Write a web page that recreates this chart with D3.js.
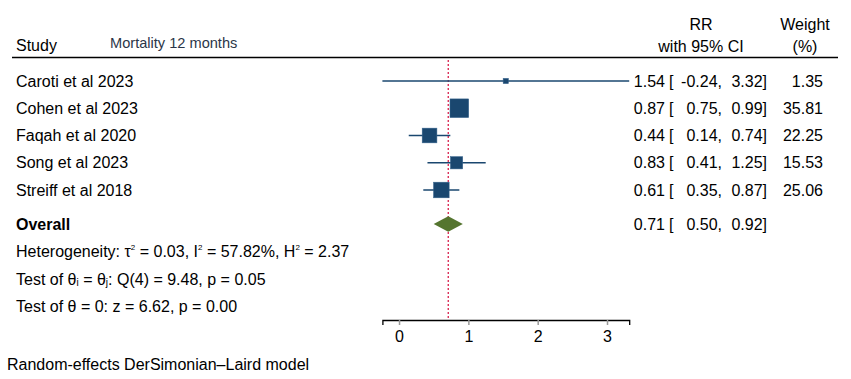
<!DOCTYPE html>
<html><head><meta charset="utf-8">
<script src="https://cdn.jsdelivr.net/npm/d3@7"></script>
<style>
body{margin:0;background:#fff;}
svg text{font-family:"Liberation Sans",Arial,sans-serif;fill:#000;}
</style></head>
<body><svg id="c" width="851" height="379"></svg>
<script>
const studies = ["Caroti et al 2023","Cohen et al 2023","Faqah et al 2020","Song et al 2023","Streiff et al 2018"];
const rr      = [1.54, 0.87, 0.44, 0.83, 0.61];
const lower   = [-0.24, 0.75, 0.14, 0.41, 0.35];
const upper   = [3.32, 0.99, 0.74, 1.25, 0.87];
const weight  = [1.35, 35.81, 22.25, 15.53, 25.06];
const overall = {rr:0.71, lower:0.50, upper:0.92};
const axisTicks = [0,1,2,3];
const fmt = v => d3.format(".2f")(v).replace("\u2212","-");
const FS = "16px";

const svg = d3.select("#c");
const x = d3.scaleLinear().domain([-0.24, 3.32]).range([382.4, 629.2]);
const rowY = d3.scalePoint().domain(d3.range(studies.length)).range([81, 190]);
const side = d3.scaleSqrt().domain([0, d3.max(weight)]).range([0, 18.7]);
const navy = "#1a476f";

// header
svg.append("text").attr("x",16).attr("y",45).attr("dy","0.35em").style("font-size",FS).text("Study");
svg.append("text").attr("x",110).attr("y",43).attr("dy","0.35em").style("font-size","14.6px").style("fill","#2b3648").text("Mortality 12 months");
svg.append("text").attr("x",701).attr("y",24).attr("dy","0.35em").attr("text-anchor","middle").style("font-size",FS).text("RR");
svg.append("text").attr("x",701).attr("y",46).attr("dy","0.35em").attr("text-anchor","middle").style("font-size",FS).text("with 95% CI");
svg.append("text").attr("x",805).attr("y",24).attr("dy","0.35em").attr("text-anchor","middle").style("font-size",FS).text("Weight");
svg.append("text").attr("x",805).attr("y",46).attr("dy","0.35em").attr("text-anchor","middle").style("font-size",FS).text("(%)");
svg.append("line").attr("x1",12).attr("x2",838).attr("y1",57.5).attr("y2",57.5).attr("stroke","#000").attr("stroke-width",1.3);

// overall effect line
svg.append("line").attr("x1",x(overall.rr)).attr("x2",x(overall.rr)).attr("y1",60).attr("y2",320)
  .attr("stroke","#d8204e").attr("stroke-width",1.3).attr("stroke-dasharray","2,2");

const ciText = (sel, y, est, lo, hi) => {
  [[665,fmt(est),"end"],[669,"[","start"],[722,fmt(lo)+",","end"],[767,fmt(hi)+"]","end"]].forEach(([xx,txt,a])=>{
    sel.append("text").attr("x",xx).attr("y",y).attr("dy","0.35em").attr("text-anchor",a).style("font-size",FS).text(txt);
  });
};

// rows
const g = svg.append("g");
studies.forEach((s,i)=>{
  const y = rowY(i);
  g.append("text").attr("x",16).attr("y",y).attr("dy","0.35em").style("font-size",FS).text(s);
  g.append("line").attr("x1",x(lower[i])).attr("x2",x(upper[i])).attr("y1",y).attr("y2",y).attr("stroke",navy).attr("stroke-width",1.3);
  const w = Math.max(5.3, side(weight[i]));
  g.append("rect").attr("x",x(rr[i])-w/2).attr("y",y-w/2).attr("width",w).attr("height",w).attr("fill",navy).attr("stroke","#3b6790").attr("stroke-width",0.5);
  ciText(g, y, rr[i], lower[i], upper[i]);
  g.append("text").attr("x",823).attr("y",y).attr("dy","0.35em").attr("text-anchor","end").style("font-size",FS).text(fmt(weight[i]));
});

// overall
const oy = 224;
svg.append("text").attr("x",16).attr("y",oy).attr("dy","0.35em").style("font-size",FS).style("font-weight","bold").text("Overall");
svg.append("path").attr("d", `M${x(overall.lower)},${oy} L${x(overall.rr)},${oy-7.8} L${x(overall.upper)},${oy} L${x(overall.rr)},${oy+7.8} Z`)
  .attr("fill","#55752f");
ciText(svg, oy, overall.rr, overall.lower, overall.upper);

// heterogeneity
const sup = (t, s) => { t.append("tspan").attr("dy","-7px").style("font-size","8px").text(s); };
const h = svg.append("text").attr("x",16).attr("y",257).style("font-size",FS);
h.append("tspan").text("Heterogeneity: τ");
sup(h,"2");
h.append("tspan").attr("dy","7px").text(" = 0.03, I");
sup(h,"2");
h.append("tspan").attr("dy","7px").text(" = 57.82%, H");
sup(h,"2");
h.append("tspan").attr("dy","7px").text(" = 2.37");

const t1 = svg.append("text").attr("x",16).attr("y",284.5).style("font-size",FS);
t1.append("tspan").text("Test of θ");
t1.append("tspan").attr("dy","1px").style("font-size","10px").text("i");
t1.append("tspan").attr("dy","-1px").text(" = θ");
t1.append("tspan").attr("dy","1px").style("font-size","10px").text("j");
t1.append("tspan").attr("dy","-1px").text(": Q(4) = 9.48, p = 0.05");

svg.append("text").attr("x",16).attr("y",306.5).attr("dy","0.35em").style("font-size",FS).text("Test of θ = 0: z = 6.62, p = 0.00");

// axis
const ax = svg.append("g").attr("transform","translate(0,320)")
  .call(d3.axisBottom(x).tickValues(axisTicks).tickFormat(d3.format("d")).tickSizeOuter(0).tickSize(5).tickPadding(6));
ax.select(".domain").attr("stroke","#000").attr("stroke-width",1.3);
ax.selectAll(".tick line").attr("stroke","#999").attr("stroke-width",1.5);
ax.selectAll(".tick text").style("font-size",FS).style("font-family","'Liberation Sans',Arial,sans-serif").attr("fill","#000");

// footer
svg.append("text").attr("x",7).attr("y",364).attr("dy","0.35em").style("font-size",FS).text("Random-effects DerSimonian–Laird model");
</script></body></html>
